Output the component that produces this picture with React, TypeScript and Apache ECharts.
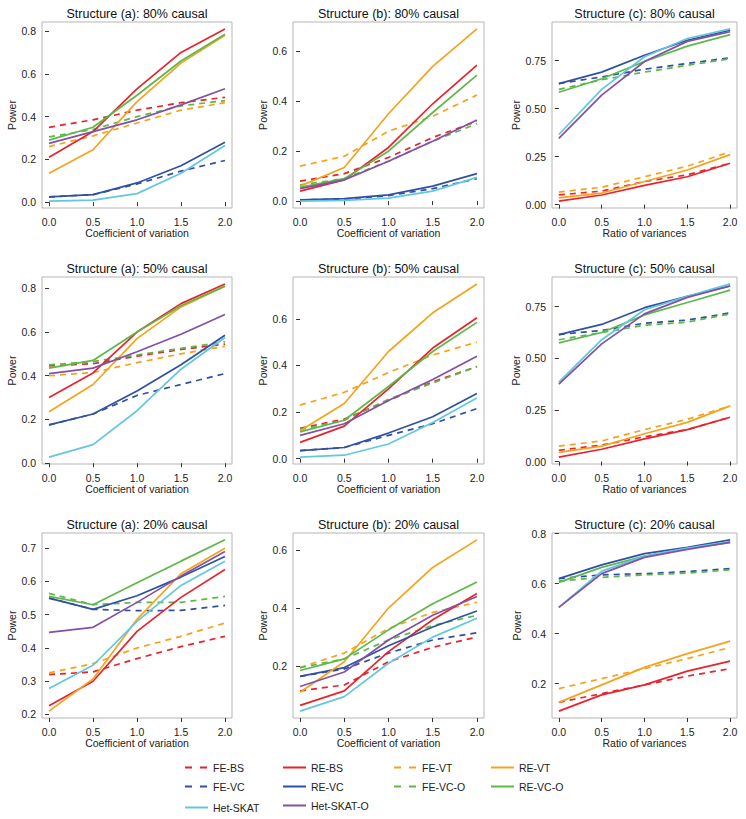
import React, { useEffect, useRef } from "react";
import * as echarts from "echarts";

const XS = [0, 0.5, 1.0, 1.5, 2.0];
const X_TICKS = [0, 0.5, 1, 1.5, 2];

const METHODS = ["FE-BS", "RE-BS", "FE-VC", "RE-VC", "FE-VT", "RE-VT", "FE-VC-O", "RE-VC-O", "Het-SKAT", "Het-SKAT-O"];

const COLORS: Record<string, string> = {
  "FE-BS": "#E8232B",
  "RE-BS": "#E8232B",
  "FE-VC": "#3050A4",
  "RE-VC": "#3050A4",
  "FE-VT": "#F7A21D",
  "RE-VT": "#F7A21D",
  "FE-VC-O": "#5DB848",
  "RE-VC-O": "#5DB848",
  "Het-SKAT": "#62C7DE",
  "Het-SKAT-O": "#8250A6",
};

const DASHED: Record<string, boolean> = {
  "FE-BS": true, "RE-BS": false, "FE-VC": true, "RE-VC": false, "FE-VT": true,
  "RE-VT": false, "FE-VC-O": true, "RE-VC-O": false, "Het-SKAT": false, "Het-SKAT-O": false,
};

// Structure (a): 80% causal
const A80: Record<string, number[]> = {
  "FE-BS": [0.35, 0.385, 0.43, 0.465, 0.49],
  "RE-BS": [0.21, 0.33, 0.53, 0.70, 0.81],
  "FE-VC": [0.025, 0.035, 0.085, 0.145, 0.195],
  "RE-VC": [0.025, 0.035, 0.09, 0.17, 0.28],
  "FE-VT": [0.26, 0.31, 0.37, 0.43, 0.465],
  "RE-VT": [0.135, 0.245, 0.47, 0.65, 0.78],
  "FE-VC-O": [0.305, 0.34, 0.40, 0.45, 0.475],
  "RE-VC-O": [0.29, 0.35, 0.50, 0.66, 0.785],
  "Het-SKAT": [0.005, 0.01, 0.04, 0.135, 0.265],
  "Het-SKAT-O": [0.275, 0.33, 0.385, 0.455, 0.53],
};

// Structure (b): 80% causal
const B80: Record<string, number[]> = {
  "FE-BS": [0.08, 0.11, 0.175, 0.255, 0.32],
  "RE-BS": [0.04, 0.085, 0.215, 0.39, 0.545],
  "FE-VC": [0.005, 0.008, 0.022, 0.05, 0.09],
  "RE-VC": [0.005, 0.01, 0.025, 0.06, 0.11],
  "FE-VT": [0.14, 0.18, 0.28, 0.34, 0.425],
  "RE-VT": [0.06, 0.135, 0.35, 0.54, 0.69],
  "FE-VC-O": [0.065, 0.09, 0.16, 0.24, 0.31],
  "RE-VC-O": [0.055, 0.09, 0.20, 0.355, 0.505],
  "Het-SKAT": [0.0, 0.003, 0.012, 0.04, 0.095],
  "Het-SKAT-O": [0.05, 0.085, 0.16, 0.24, 0.325],
};

// Structure (c): 80% causal
const C80: Record<string, number[]> = {
  "FE-BS": [0.05, 0.07, 0.12, 0.155, 0.215],
  "RE-BS": [0.018, 0.05, 0.10, 0.145, 0.215],
  "FE-VC": [0.63, 0.665, 0.705, 0.735, 0.765],
  "RE-VC": [0.63, 0.69, 0.778, 0.856, 0.908],
  "FE-VT": [0.065, 0.09, 0.145, 0.20, 0.275],
  "RE-VT": [0.035, 0.06, 0.12, 0.18, 0.26],
  "FE-VC-O": [0.60, 0.65, 0.69, 0.725, 0.76],
  "RE-VC-O": [0.585, 0.655, 0.745, 0.825, 0.885],
  "Het-SKAT": [0.365, 0.60, 0.77, 0.865, 0.915],
  "Het-SKAT-O": [0.345, 0.57, 0.745, 0.85, 0.90],
};

// Structure (a): 50% causal
const A50: Record<string, number[]> = {
  "FE-BS": [0.445, 0.455, 0.49, 0.52, 0.545],
  "RE-BS": [0.30, 0.413, 0.60, 0.73, 0.82],
  "FE-VC": [0.175, 0.225, 0.31, 0.36, 0.41],
  "RE-VC": [0.175, 0.225, 0.33, 0.45, 0.585],
  "FE-VT": [0.40, 0.415, 0.46, 0.50, 0.535],
  "RE-VT": [0.235, 0.36, 0.57, 0.715, 0.81],
  "FE-VC-O": [0.45, 0.465, 0.495, 0.525, 0.555],
  "RE-VC-O": [0.435, 0.47, 0.60, 0.72, 0.81],
  "Het-SKAT": [0.028, 0.085, 0.24, 0.43, 0.575],
  "Het-SKAT-O": [0.41, 0.435, 0.51, 0.59, 0.68],
};

// Structure (b): 50% causal
const B50: Record<string, number[]> = {
  "FE-BS": [0.13, 0.17, 0.25, 0.33, 0.395],
  "RE-BS": [0.07, 0.14, 0.30, 0.475, 0.605],
  "FE-VC": [0.035, 0.048, 0.10, 0.15, 0.215],
  "RE-VC": [0.035, 0.048, 0.11, 0.18, 0.28],
  "FE-VT": [0.23, 0.285, 0.37, 0.445, 0.50],
  "RE-VT": [0.12, 0.237, 0.46, 0.626, 0.75],
  "FE-VC-O": [0.125, 0.165, 0.255, 0.325, 0.395],
  "RE-VC-O": [0.115, 0.165, 0.31, 0.46, 0.585],
  "Het-SKAT": [0.007, 0.015, 0.063, 0.155, 0.26],
  "Het-SKAT-O": [0.10, 0.15, 0.25, 0.34, 0.44],
};

// Structure (c): 50% causal
const C50: Record<string, number[]> = {
  "FE-BS": [0.055, 0.08, 0.12, 0.155, 0.215],
  "RE-BS": [0.022, 0.06, 0.11, 0.155, 0.215],
  "FE-VC": [0.615, 0.635, 0.67, 0.685, 0.72],
  "RE-VC": [0.615, 0.664, 0.745, 0.80, 0.85],
  "FE-VT": [0.075, 0.10, 0.155, 0.205, 0.27],
  "RE-VT": [0.045, 0.075, 0.135, 0.19, 0.27],
  "FE-VC-O": [0.59, 0.625, 0.66, 0.675, 0.715],
  "RE-VC-O": [0.575, 0.625, 0.71, 0.77, 0.83],
  "Het-SKAT": [0.385, 0.59, 0.735, 0.80, 0.86],
  "Het-SKAT-O": [0.375, 0.57, 0.715, 0.795, 0.85],
};

// Structure (a): 20% causal
const A20: Record<string, number[]> = {
  "FE-BS": [0.32, 0.328, 0.368, 0.404, 0.435],
  "RE-BS": [0.226, 0.30, 0.45, 0.552, 0.636],
  "FE-VC": [0.55, 0.516, 0.512, 0.513, 0.528],
  "RE-VC": [0.55, 0.516, 0.557, 0.613, 0.675],
  "FE-VT": [0.325, 0.353, 0.40, 0.435, 0.475],
  "RE-VT": [0.21, 0.307, 0.486, 0.623, 0.70],
  "FE-VC-O": [0.564, 0.53, 0.537, 0.537, 0.555],
  "RE-VC-O": [0.555, 0.53, 0.596, 0.661, 0.725],
  "Het-SKAT": [0.278, 0.348, 0.48, 0.588, 0.661],
  "Het-SKAT-O": [0.447, 0.462, 0.537, 0.616, 0.69],
};

// Structure (b): 20% causal
const B20: Record<string, number[]> = {
  "FE-BS": [0.115, 0.135, 0.215, 0.265, 0.30],
  "RE-BS": [0.065, 0.115, 0.25, 0.36, 0.45],
  "FE-VC": [0.165, 0.19, 0.245, 0.29, 0.315],
  "RE-VC": [0.165, 0.195, 0.27, 0.335, 0.39],
  "FE-VT": [0.195, 0.245, 0.33, 0.385, 0.42],
  "RE-VT": [0.11, 0.215, 0.40, 0.54, 0.635],
  "FE-VC-O": [0.195, 0.225, 0.29, 0.34, 0.375],
  "RE-VC-O": [0.185, 0.225, 0.325, 0.415, 0.49],
  "Het-SKAT": [0.045, 0.095, 0.21, 0.30, 0.365],
  "Het-SKAT-O": [0.13, 0.18, 0.29, 0.375, 0.44],
};

// Structure (c): 20% causal
const C20: Record<string, number[]> = {
  "FE-BS": [0.125, 0.16, 0.195, 0.23, 0.26],
  "RE-BS": [0.09, 0.155, 0.195, 0.25, 0.29],
  "FE-VC": [0.62, 0.635, 0.64, 0.648, 0.66],
  "RE-VC": [0.62, 0.675, 0.72, 0.745, 0.775],
  "FE-VT": [0.18, 0.22, 0.26, 0.30, 0.345],
  "RE-VT": [0.125, 0.195, 0.265, 0.32, 0.37],
  "FE-VC-O": [0.61, 0.625, 0.635, 0.642, 0.655],
  "RE-VC-O": [0.605, 0.665, 0.71, 0.74, 0.765],
  "Het-SKAT": [0.505, 0.65, 0.71, 0.742, 0.768],
  "Het-SKAT-O": [0.505, 0.64, 0.705, 0.737, 0.765],
};

const PANELS = [A80, B80, C80, A50, B50, C50, A20, B20, C20];

const TITLES = [
  "Structure (a): 80% causal", "Structure (b): 80% causal", "Structure (c): 80% causal",
  "Structure (a): 50% causal", "Structure (b): 50% causal", "Structure (c): 50% causal",
  "Structure (a): 20% causal", "Structure (b): 20% causal", "Structure (c): 20% causal",
];

const X_NAMES = [
  "Coefficient of variation", "Coefficient of variation", "Ratio of variances",
  "Coefficient of variation", "Coefficient of variation", "Ratio of variances",
  "Coefficient of variation", "Coefficient of variation", "Ratio of variances",
];

const Y_TICKS = [
  [0, 0.2, 0.4, 0.6, 0.8], [0, 0.2, 0.4, 0.6], [0, 0.25, 0.5, 0.75],
  [0, 0.2, 0.4, 0.6, 0.8], [0, 0.2, 0.4, 0.6], [0, 0.25, 0.5, 0.75],
  [0.2, 0.3, 0.4, 0.5, 0.6, 0.7], [0.2, 0.4, 0.6], [0.2, 0.4, 0.6, 0.8],
];
const Y_DECIMALS = [1, 1, 2, 1, 1, 2, 1, 1, 1];

// legend blocks: names, column index, starting row
const LEGEND_BLOCKS = [
  { names: ["FE-BS", "FE-VC"], col: 0, row: 0, dashed: true },
  { names: ["Het-SKAT"], col: 0, row: 2, dashed: false },
  { names: ["RE-BS", "RE-VC", "Het-SKAT-O"], col: 1, row: 0, dashed: false },
  { names: ["FE-VT", "FE-VC-O"], col: 2, row: 0, dashed: true },
  { names: ["RE-VT", "RE-VC-O"], col: 3, row: 0, dashed: false },
];

// layout (pixels)
const COL_LEFT = [42, 293, 552];
const COL_WIDTH = [190, 191, 185];
const ROW_TOP = [22, 277, 533];
const ROW_HEIGHT = [186, 187, 185];
const Y_NAME_GAP = [23, 21, 30];
const LEGEND_LEFT = [179, 277, 388, 485];
const LEGEND_TOP = 757;
const LEGEND_ROW_STEP = 20;

const FONT = "'Liberation Sans', Arial, Helvetica, sans-serif";

export default function App() {
  const ref = useRef<HTMLDivElement>(null);

  useEffect(() => {
    if (!ref.current) return;
    const chart = echarts.init(ref.current, undefined, { renderer: "svg" });

    const grids: any[] = [];
    const xAxes: any[] = [];
    const yAxes: any[] = [];
    const series: any[] = [];
    const graphics: any[] = [];

    PANELS.forEach((panel, i) => {
      const r = Math.floor(i / 3);
      const c = i % 3;
      grids.push({
        left: COL_LEFT[c],
        top: ROW_TOP[r],
        width: COL_WIDTH[c],
        height: ROW_HEIGHT[r],
        show: true,
        borderColor: "#b5b5b5",
        borderWidth: 1,
        backgroundColor: "transparent",
        containLabel: false,
        outerBoundsMode: "none",
      });
      let lo = Infinity;
      let hi = -Infinity;
      METHODS.forEach((m) => {
        panel[m].forEach((v) => {
          lo = Math.min(lo, v);
          hi = Math.max(hi, v);
        });
      });
      const pad = (hi - lo) * 0.04;
      const ticks = Y_TICKS[i];
      const yMin = Math.min(lo - pad, ticks[0] - 0.002);
      const yMax = Math.max(hi + pad, ticks[ticks.length - 1] + 0.002);
      xAxes.push({
        type: "value",
        gridIndex: i,
        min: -0.08,
        max: 2.08,
        axisLine: { show: false },
        axisTick: { show: true, customValues: X_TICKS, length: 4, lineStyle: { color: "#333", width: 1 } },
        axisLabel: {
          customValues: X_TICKS,
          formatter: (v: number) => v.toFixed(1),
          fontSize: 10.5,
          color: "#222",
          margin: 8,
          fontFamily: FONT,
          showMinLabel: true,
          showMaxLabel: true,
        },
        splitLine: { show: false },
        name: X_NAMES[i],
        nameLocation: "middle",
        nameGap: 19,
        nameTextStyle: { fontSize: 10.5, color: "#222", fontFamily: FONT },
      });
      const dec = Y_DECIMALS[i];
      yAxes.push({
        type: "value",
        gridIndex: i,
        min: yMin,
        max: yMax,
        axisLine: { show: false },
        axisTick: { show: true, customValues: ticks, length: 4, lineStyle: { color: "#333", width: 1 } },
        axisLabel: {
          customValues: ticks,
          formatter: (v: number) => v.toFixed(dec),
          fontSize: 10.5,
          color: "#222",
          margin: 6,
          fontFamily: FONT,
          showMinLabel: true,
          showMaxLabel: true,
        },
        splitLine: { show: false },
        name: "Power",
        nameLocation: "middle",
        nameGap: Y_NAME_GAP[c],
        nameTextStyle: { fontSize: 10.5, color: "#222", fontFamily: FONT },
      });
      METHODS.forEach((m) => {
        series.push({
          type: "line",
          name: m,
          xAxisIndex: i,
          yAxisIndex: i,
          data: XS.map((x, j) => [x, panel[m][j]]),
          symbol: "none",
          showSymbol: false,
          silent: true,
          z: DASHED[m] ? 2 : 3,
          itemStyle: { color: COLORS[m] },
          lineStyle: { color: COLORS[m], width: 1.7, type: DASHED[m] ? [6, 5] : "solid" },
        });
      });
      graphics.push({
        type: "text",
        x: COL_LEFT[c] + COL_WIDTH[c] / 2,
        y: ROW_TOP[r] - 8,
        style: {
          text: TITLES[i],
          fontSize: 12.5,
          fontFamily: FONT,
          fill: "#111",
          align: "center",
          verticalAlign: "middle",
        },
      });
    });

    const legends = LEGEND_BLOCKS.map((b) => ({
      show: true,
      orient: "vertical",
      left: LEGEND_LEFT[b.col],
      top: LEGEND_TOP + b.row * LEGEND_ROW_STEP,
      data: b.names,
      itemWidth: 23,
      itemHeight: 12,
      itemGap: 8,
      selectedMode: false,
      itemStyle: { opacity: 0 },
      lineStyle: b.dashed ? { type: [7, 8], width: 2 } : { width: 2 },
      textStyle: { fontSize: 10.5, color: "#222", fontFamily: FONT },
    }));

    chart.setOption({
      animation: false,
      backgroundColor: "#ffffff",
      grid: grids,
      xAxis: xAxes,
      yAxis: yAxes,
      series,
      legend: legends,
      graphic: graphics,
    });

    return () => {
      chart.dispose();
    };
  }, []);

  return (
    <div
      ref={ref}
      style={{ position: "absolute", left: 0, top: 0, width: 746, height: 819, background: "#fff" }}
    />
  );
}
